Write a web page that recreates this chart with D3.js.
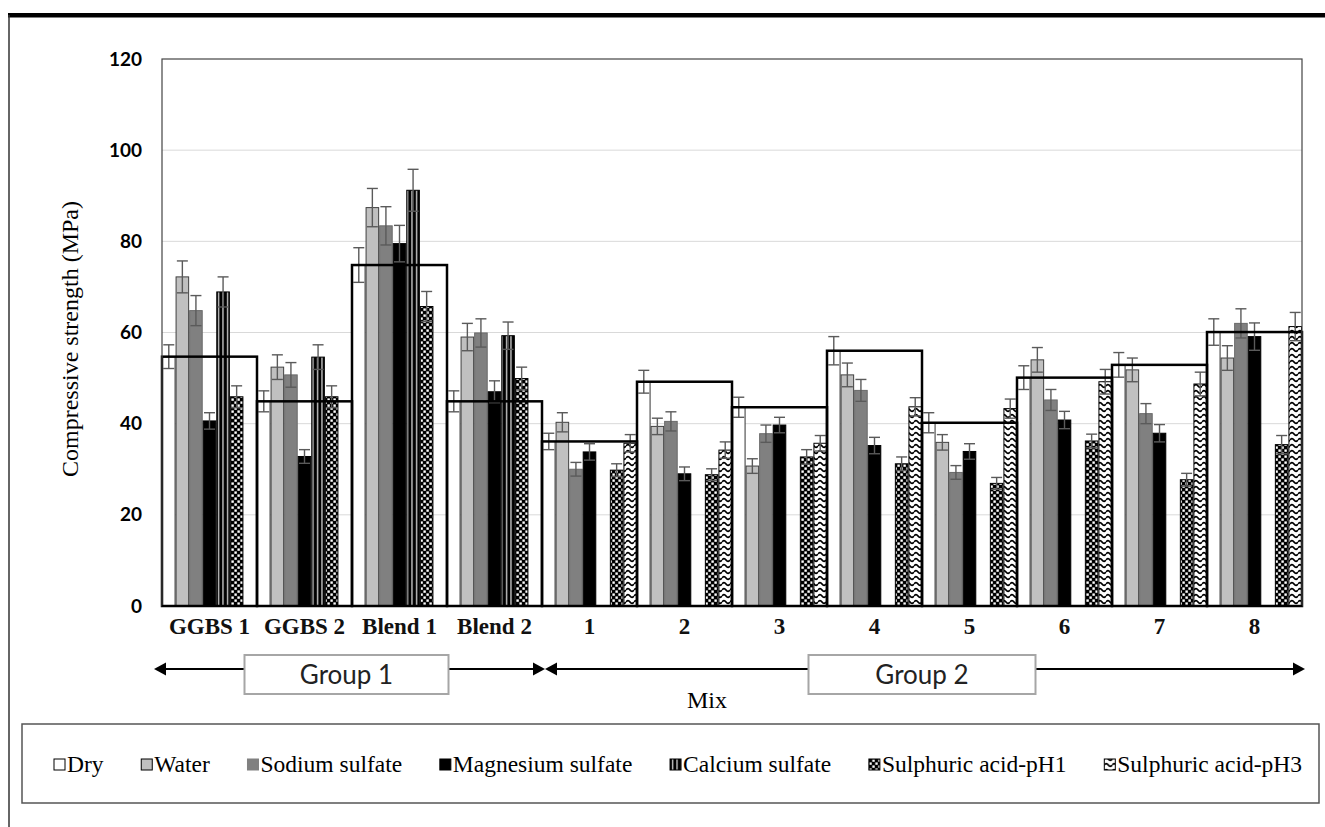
<!DOCTYPE html>
<html>
<head>
<meta charset="utf-8">
<script src="https://cdn.jsdelivr.net/npm/d3@7"></script>
<style>
  body { margin: 0; background: #fff; }
</style>
</head>
<body>
<div id="chart"></div>
<script>
// mixes on the x axis
const mixes = ['GGBS 1', 'GGBS 2', 'Blend 1', 'Blend 2', '1', '2', '3', '4', '5', '6', '7', '8'];
const seriesNames = ['Dry', 'Water', 'Sodium sulfate', 'Magnesium sulfate', 'Calcium sulfate',
  'Sulphuric acid-pH1', 'Sulphuric acid-pH3'];

// compressive strength (MPa) and error, per exposure
const dry = [54.7, 44.9, 74.8, 44.9, 36.1, 49.2, 43.6, 56.0, 40.2, 50.1, 52.9, 60.1];
const dryErr = [2.6, 2.3, 3.8, 2.3, 1.8, 2.5, 2.2, 3.1, 2.2, 2.6, 2.7, 2.9];
const water = [72.2, 52.4, 87.4, 59.0, 40.3, 39.4, 30.7, 50.7, 35.9, 54.0, 51.8, 54.4];
const waterErr = [3.5, 2.7, 4.2, 3.0, 2.1, 1.8, 1.6, 2.6, 1.7, 2.7, 2.6, 2.7];
const sodium = [64.8, 50.7, 83.4, 59.9, 30.0, 40.5, 37.8, 47.3, 29.3, 45.2, 42.2, 62.0];
const sodiumErr = [3.3, 2.7, 4.2, 3.1, 1.5, 2.1, 1.9, 2.4, 1.5, 2.3, 2.2, 3.2];
const magnesium = [40.6, 32.8, 79.5, 47.0, 33.8, 29.0, 39.7, 35.2, 33.9, 40.8, 37.9, 59.1];
const magnesiumErr = [1.8, 1.5, 4.0, 2.4, 1.8, 1.5, 1.7, 1.8, 1.7, 1.9, 1.9, 3.0];
const calcium = [68.9, 54.6, 91.2, 59.3, null, null, null, null, null, null, null, null];
const calciumErr = [3.3, 2.7, 4.6, 3.0, null, null, null, null, null, null, null, null];
const acidPH1 = [45.9, 45.9, 65.7, 49.9, 29.8, 28.8, 32.7, 31.2, 26.9, 36.2, 27.7, 35.4];
const acidPH1Err = [2.4, 2.4, 3.3, 2.5, 1.4, 1.3, 1.6, 1.5, 1.3, 1.5, 1.4, 2.0];
const acidPH3 = [null, null, null, null, 35.7, 34.2, 35.7, 43.7, 43.3, 49.2, 48.7, 61.3];
const acidPH3Err = [null, null, null, null, 1.9, 1.8, 1.7, 2.0, 2.1, 2.7, 2.6, 3.1];

const yTicks = [0, 20, 40, 60, 80, 100, 120];
const groupLabels = ['Group 1', 'Group 2'];
const groupFirst = ['GGBS 1', '1'];
const groupLast = ['Blend 2', '8'];

const seriesValues = [dry, water, sodium, magnesium, calcium, acidPH1, acidPH3];
const seriesErrors = [dryErr, waterErr, sodiumErr, magnesiumErr, calciumErr, acidPH1Err, acidPH3Err];

const W = 1325;
const H = 827;
const margin = { top: 59, right: 23, bottom: 221, left: 162 };
const width = W - margin.left - margin.right;
const height = H - margin.top - margin.bottom;
const serif = '"Liberation Serif", "Times New Roman", serif';
const sans = 'Lato, "Open Sans", sans-serif';

const svg = d3.select('#chart').append('svg')
  .attr('width', W)
  .attr('height', H);

// fill patterns
const defs = svg.append('defs');
const pCa = defs.append('pattern').attr('id', 'p-ca')
  .attr('patternUnits', 'userSpaceOnUse').attr('width', 4.5).attr('height', 4);
pCa.append('rect').attr('width', 4.5).attr('height', 4).attr('fill', '#000');
pCa.append('rect').attr('x', 2).attr('width', 1.1).attr('height', 4).attr('fill', '#fff');

const pH1 = defs.append('pattern').attr('id', 'p-ph1')
  .attr('patternUnits', 'userSpaceOnUse').attr('width', 6).attr('height', 6);
pH1.append('rect').attr('width', 6).attr('height', 6).attr('fill', '#000');
pH1.append('rect').attr('x', 0.4).attr('y', 0.4).attr('width', 2.4).attr('height', 2.4).attr('fill', '#fff');
pH1.append('rect').attr('x', 3.4).attr('y', 3.4).attr('width', 2.4).attr('height', 2.4).attr('fill', '#fff');

const pH3 = defs.append('pattern').attr('id', 'p-ph3')
  .attr('patternUnits', 'userSpaceOnUse').attr('width', 8).attr('height', 6);
pH3.append('rect').attr('width', 8).attr('height', 6).attr('fill', '#fff');
pH3.append('path').attr('d', 'M0,3 Q2,0.2 4,3 T8,3')
  .attr('fill', 'none').attr('stroke', '#000').attr('stroke-width', 1.7);

const fills = ['#fff', '#c0c0c0', '#808080', '#000', 'url(#p-ca)', 'url(#p-ph1)', 'url(#p-ph3)'];
const strokes = ['#333', '#404040', '#6a6a6a', '#000', '#000', '#000', '#000'];

// outer frame
svg.append('rect').attr('x', 8).attr('y', 13).attr('width', W - 8).attr('height', 4.5).attr('fill', '#000');
svg.append('line').attr('x1', 9).attr('x2', 9).attr('y1', 15).attr('y2', H)
  .attr('stroke', '#333').attr('stroke-width', 1.5);

const g = svg.append('g').attr('transform', `translate(${margin.left}, ${margin.top})`);

const x = d3.scaleBand().domain(mixes).range([0, width]).padding(0);
const xInner = d3.scaleBand().domain(seriesNames).range([0, x.bandwidth()]).padding(0);
const y = d3.scaleLinear().domain([0, 120]).range([height, 0]);

// gridlines
g.append('g')
  .selectAll('line')
  .data(yTicks.filter((t) => t > 0 && t < 120))
  .join('line')
  .attr('x1', 0).attr('x2', width)
  .attr('y1', (d) => y(d)).attr('y2', (d) => y(d))
  .attr('stroke', '#d9d9d9').attr('stroke-width', 1);

// y axis
const yAxis = g.append('g')
  .call(d3.axisLeft(y).tickValues(yTicks).tickSize(0).tickPadding(20));
yAxis.select('.domain').remove();
yAxis.selectAll('text')
  .attr('font-family', sans).attr('font-weight', 'bold').attr('font-size', 19).attr('fill', '#000');

// bars
seriesNames.forEach((name, si) => {
  const vals = seriesValues[si];
  const errs = seriesErrors[si];
  const rows = mixes.map((m, i) => ({ mix: m, v: vals[i], e: errs[i] })).filter((d) => d.v != null);
  const sg = g.append('g');
  sg.selectAll('rect')
    .data(rows)
    .join('rect')
    .attr('x', (d) => x(d.mix) + xInner(name) + 0.5)
    .attr('y', (d) => y(d.v))
    .attr('width', xInner.bandwidth() - 1)
    .attr('height', (d) => y(0) - y(d.v))
    .attr('fill', fills[si])
    .attr('stroke', strokes[si])
    .attr('stroke-width', 1);

  // error bars
  const cx = (d) => x(d.mix) + xInner(name) + xInner.bandwidth() / 2;
  const eg = sg.selectAll('g.err').data(rows).join('g').attr('class', 'err')
    .attr('stroke', '#5a5a5a').attr('stroke-width', 1.4);
  eg.append('line')
    .attr('x1', cx).attr('x2', cx)
    .attr('y1', (d) => y(d.v + d.e)).attr('y2', (d) => y(d.v - d.e));
  eg.append('line')
    .attr('x1', (d) => cx(d) - 5.5).attr('x2', (d) => cx(d) + 5.5)
    .attr('y1', (d) => y(d.v + d.e)).attr('y2', (d) => y(d.v + d.e));
  eg.append('line')
    .attr('x1', (d) => cx(d) - 5.5).attr('x2', (d) => cx(d) + 5.5)
    .attr('y1', (d) => y(d.v - d.e)).attr('y2', (d) => y(d.v - d.e));
});

// wide outline boxes for the dry strength, spanning the whole mix
g.append('g')
  .selectAll('rect')
  .data(mixes.map((m, i) => ({ mix: m, v: dry[i] })))
  .join('rect')
  .attr('x', (d) => x(d.mix))
  .attr('y', (d) => y(d.v))
  .attr('width', x.bandwidth())
  .attr('height', (d) => y(0) - y(d.v))
  .attr('fill', 'none')
  .attr('stroke', '#000')
  .attr('stroke-width', 2.5);

// plot frame
g.append('rect')
  .attr('x', 0).attr('y', 0).attr('width', width).attr('height', height)
  .attr('fill', 'none').attr('stroke', '#444').attr('stroke-width', 1.2);
g.append('line').attr('x1', 0).attr('x2', width).attr('y1', height).attr('y2', height)
  .attr('stroke', '#000').attr('stroke-width', 1.8);

// x axis labels
const xAxis = g.append('g')
  .attr('transform', `translate(0, ${height})`)
  .call(d3.axisBottom(x).tickSize(0).tickPadding(12));
xAxis.select('.domain').remove();
xAxis.selectAll('text')
  .attr('font-family', serif).attr('font-weight', 'bold').attr('font-size', 23).attr('fill', '#111');

// y title
svg.append('text')
  .attr('transform', 'translate(78, 339) rotate(-90)')
  .attr('text-anchor', 'middle')
  .attr('font-family', serif).attr('font-size', 24)
  .text('Compressive strength (MPa)');

// x title
svg.append('text')
  .attr('x', 707).attr('y', 708)
  .attr('text-anchor', 'middle')
  .attr('font-family', serif).attr('font-size', 24)
  .text('Mix');

// group arrows
const arrowY = 669;
const head = (tipX, dir) => `M${tipX},${arrowY} L${tipX - dir * 12},${arrowY - 6.5} L${tipX - dir * 12},${arrowY + 6.5} Z`;
const boxW = [204, 227];
groupLabels.forEach((lab, gi) => {
  const x0 = margin.left + x(groupFirst[gi]) + (gi === 0 ? -8 : 3);
  const x1 = margin.left + x(groupLast[gi]) + x.bandwidth() + 3;
  svg.append('line').attr('x1', x0 + 4).attr('x2', x1 - 4)
    .attr('y1', arrowY).attr('y2', arrowY)
    .attr('stroke', '#000').attr('stroke-width', 2);
  svg.append('path').attr('d', head(x0, -1)).attr('fill', '#000');
  svg.append('path').attr('d', head(x1, 1)).attr('fill', '#000');
  const cx = (x0 + x1) / 2 - 3;
  svg.append('rect')
    .attr('x', cx - boxW[gi] / 2).attr('y', 655)
    .attr('width', boxW[gi]).attr('height', 39)
    .attr('fill', '#fff').attr('stroke', '#a6a6a6').attr('stroke-width', 2);
  svg.append('text')
    .attr('x', cx).attr('y', 684)
    .attr('text-anchor', 'middle')
    .attr('font-family', sans).attr('font-size', 26).attr('fill', '#222')
    .text(lab);
});

// legend
svg.append('rect')
  .attr('x', 22).attr('y', 724).attr('width', 1297).attr('height', 79)
  .attr('fill', '#fff').attr('stroke', '#555').attr('stroke-width', 1.5);

const legend = svg.append('g');
const items = legend.selectAll('g').data(seriesNames).join('g');
const keySize = 11;
items.append('rect')
  .attr('y', 759).attr('width', keySize).attr('height', keySize)
  .attr('fill', (d, i) => fills[i])
  .attr('stroke', (d, i) => (i === 2 ? '#808080' : '#000'))
  .attr('stroke-width', 1);
const texts = items.append('text')
  .attr('x', keySize + 2).attr('y', 772)
  .attr('font-family', serif).attr('font-size', 23.5)
  .text((d) => d);
const widths = [];
texts.each(function () { widths.push(this.getComputedTextLength()); });
const start = 54;
const end = 1302;
const gap = (end - start - d3.sum(widths) - seriesNames.length * (keySize + 2)) / (seriesNames.length - 1);
let cur = start;
items.attr('transform', (d, i) => {
  const t = `translate(${cur}, 0)`;
  cur += keySize + 2 + widths[i] + gap;
  return t;
});
</script>
</body>
</html>
